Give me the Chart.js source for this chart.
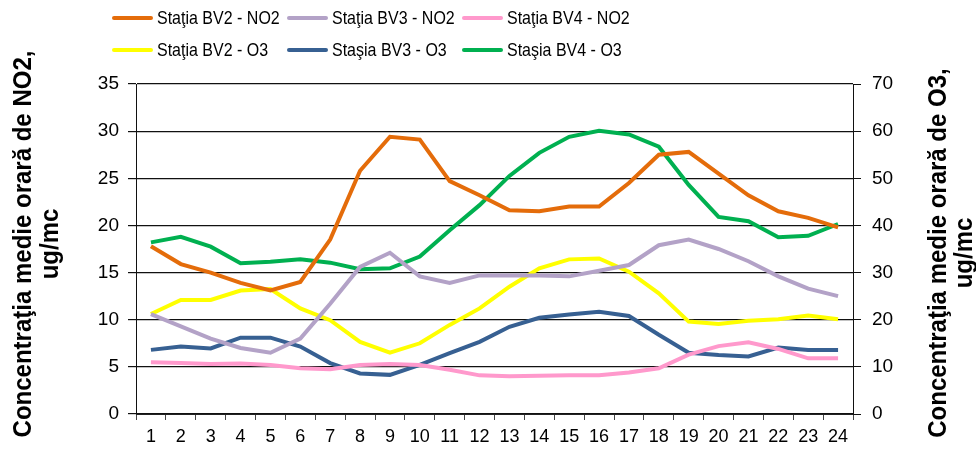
<!DOCTYPE html>
<html>
<head>
<meta charset="utf-8">
<script src="https://cdn.jsdelivr.net/npm/chart.js@4.4.1/dist/chart.umd.min.js"></script>
<style>
    body { margin: 0; background: #fff; }
    #wrap { position: relative; width: 976px; height: 450px; }
    #legend { position: absolute; left: 112px; top: 6px; display: grid; grid-template-columns: 175px 175px 175px; row-gap: 8px; }
    .item { display: flex; align-items: center; height: 24px; font-family: "Liberation Sans", Arial, sans-serif; font-size: 16px; color: #000; }
    .swatch { width: 41px; height: 4px; border-radius: 2px; margin-right: 4px; }
    .item span { display: inline-block; transform: scaleY(1.2); }
</style>
</head>
<body>
<div id="wrap">
    <canvas id="chart" width="976" height="450"></canvas>
    <div id="legend"></div>
</div>
<script>
const hours = ["1","2","3","4","5","6","7","8","9","10","11","12","13","14","15","16","17","18","19","20","21","22","23","24"];

const bv2No2 = [17.8, 15.9, 15.0, 13.9, 13.1, 14.0, 18.5, 25.8, 29.4, 29.1, 24.7, 23.2, 21.6, 21.5, 22.0, 22.0, 24.5, 27.5, 27.8, 25.5, 23.2, 21.5, 20.8, 19.8];
const bv3No2 = [10.6, 9.3, 8.0, 7.0, 6.5, 8.0, 11.7, 15.6, 17.1, 14.6, 13.9, 14.7, 14.7, 14.7, 14.6, 15.2, 15.8, 17.9, 18.5, 17.5, 16.2, 14.6, 13.3, 12.5];
const bv4No2 = [5.5, 5.4, 5.3, 5.35, 5.2, 4.85, 4.75, 5.2, 5.3, 5.2, 4.7, 4.1, 4.0, 4.05, 4.1, 4.1, 4.4, 4.85, 6.3, 7.2, 7.6, 6.9, 5.9, 5.9];
const bv2O3 = [21.2, 24.2, 24.2, 26.2, 26.5, 22.4, 19.9, 15.3, 13.0, 15.0, 18.9, 22.4, 27.0, 30.9, 32.8, 33.0, 30.2, 25.6, 19.6, 19.1, 19.8, 20.1, 20.9, 20.1];
const bv3O3 = [13.6, 14.3, 13.9, 16.2, 16.2, 14.3, 10.8, 8.6, 8.3, 10.4, 12.9, 15.3, 18.5, 20.4, 21.1, 21.7, 20.8, 16.8, 13.0, 12.5, 12.2, 14.1, 13.6, 13.6];
const bv4O3 = [36.4, 37.6, 35.5, 32.0, 32.3, 32.8, 32.1, 30.7, 30.9, 33.4, 39.0, 44.3, 50.5, 55.4, 58.8, 60.1, 59.3, 56.7, 48.6, 41.8, 40.9, 37.5, 37.8, 40.3];

const leftTitle = ["Concentraţia medie orară de NO2,", "ug/mc"];
const rightTitle = ["Concentraţia medie orară de O3,", "ug/mc"];

const FONT = "'Liberation Sans', Arial, sans-serif";

function line(label, data, color, axis) {
    return {
        label: label,
        data: data,
        yAxisID: axis,
        borderColor: color,
        backgroundColor: color,
        borderWidth: 4,
        pointRadius: 0,
        tension: 0,
        fill: false
    };
}

// axis titles read bottom-to-top on both sides
const axisTitles = {
    id: "axisTitles",
    afterDraw(chart) {
        const ctx = chart.ctx;
        const area = chart.chartArea;
        const midY = (area.top + area.bottom) / 2;
        ctx.save();
        ctx.fillStyle = "#000";
        ctx.font = "bold 24px " + FONT;
        ctx.textAlign = "center";
        ctx.textBaseline = "middle";
        drawRotated(ctx, leftTitle, 24, midY - 5, 27);
        drawRotated(ctx, rightTitle, 939, midY + 4, 26);
        ctx.restore();
    }
};

function drawRotated(ctx, lines, x, y, step) {
    lines.forEach((text, i) => {
        ctx.save();
        ctx.translate(x + i * step, y);
        ctx.rotate(-Math.PI / 2);
        ctx.scale(1, 1.05);
        ctx.fillText(text, 0, 0);
        ctx.restore();
    });
}

const chart = new Chart(document.getElementById("chart"), {
    type: "line",
    data: {
        labels: hours,
        datasets: [
            line("Staţia BV2 - NO2", bv2No2, "#E46C0A", "yLeft"),
            line("Staţia BV3 - NO2", bv3No2, "#B3A2C7", "yLeft"),
            line("Staţia BV4 - NO2", bv4No2, "#FF99CC", "yLeft"),
            line("Staţia BV2 - O3", bv2O3, "#FFFF00", "yRight"),
            line("Staşia BV3 - O3", bv3O3, "#376092", "yRight"),
            line("Staşia BV4 - O3", bv4O3, "#00B050", "yRight")
        ]
    },
    options: {
        responsive: false,
        animation: false,
        layout: {
            padding: { top: 84, bottom: 0, left: 0, right: 0 }
        },
        plugins: {
            legend: { display: false },
            tooltip: { enabled: false }
        },
        scales: {
            x: {
                offset: true,
                grid: {
                    offset: true,
                    drawOnChartArea: false,
                    tickLength: 6,
                    color: "#444"
                },
                border: { color: "#222", width: 1 },
                ticks: {
                    color: "#000",
                    padding: 6,
                    maxRotation: 0,
                    autoSkip: false,
                    font: { family: FONT, size: 18 }
                },
                afterFit(scale) { scale.height = 36; }
            },
            yLeft: {
                position: "left",
                min: 0,
                max: 35,
                ticks: {
                    stepSize: 5,
                    color: "#000",
                    padding: 9,
                    font: { family: FONT, size: 19 }
                },
                grid: {
                    color: "#111",
                    lineWidth: 1.2,
                    tickLength: 8
                },
                border: { color: "#111" },
                afterFit(scale) { scale.width = 136; }
            },
            yRight: {
                position: "right",
                min: 0,
                max: 70,
                ticks: {
                    stepSize: 10,
                    color: "#000",
                    padding: 11,
                    font: { family: FONT, size: 19 }
                },
                grid: {
                    drawOnChartArea: false,
                    color: "#111",
                    tickLength: 8
                },
                border: { color: "#111" },
                afterFit(scale) { scale.width = 123; }
            }
        }
    },
    plugins: [axisTitles]
});

// legend in three fixed columns, like the original
const legendBox = document.getElementById("legend");
chart.data.datasets.forEach(ds => {
    const item = document.createElement("div");
    item.className = "item";
    const swatch = document.createElement("div");
    swatch.className = "swatch";
    swatch.style.background = ds.borderColor;
    const text = document.createElement("span");
    text.textContent = ds.label;
    item.appendChild(swatch);
    item.appendChild(text);
    legendBox.appendChild(item);
});
</script>
</body>
</html>
